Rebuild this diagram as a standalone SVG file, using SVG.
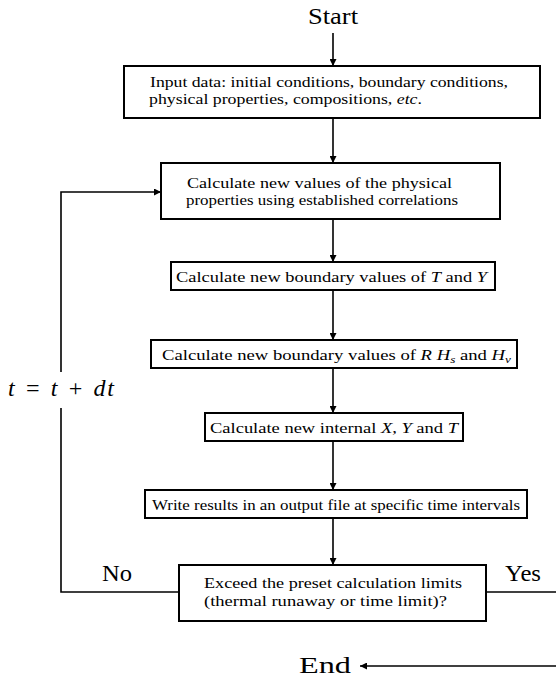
<svg xmlns="http://www.w3.org/2000/svg" width="556" height="683" viewBox="0 0 556 683">
<style>
.box{fill:#fff;stroke:#000;stroke-width:2}
.ln{fill:none;stroke:#000;stroke-width:1.6}
.t{font-family:"Liberation Serif","Times New Roman",serif;font-size:15.5px;fill:#000}
.big{font-family:"Liberation Serif","Times New Roman",serif;font-size:24px;fill:#000}
.i{font-style:italic}
</style>
<defs>
<marker id="ah" viewBox="0 0 10 10" refX="10" refY="5" markerWidth="7" markerHeight="7" markerUnits="userSpaceOnUse" orient="auto">
<path d="M0,0 L10,5 L0,10 z" fill="#000"/>
</marker>
</defs>
<text class="big" x="308" y="24" font-size="25" textLength="50" lengthAdjust="spacingAndGlyphs">Start</text>
<g id="connectors">
<line class="ln" x1="333" y1="33" x2="333" y2="66" marker-end="url(#ah)"/>
<line class="ln" x1="333" y1="118" x2="333" y2="163" marker-end="url(#ah)"/>
<line class="ln" x1="333" y1="219" x2="333" y2="262" marker-end="url(#ah)"/>
<line class="ln" x1="333" y1="290" x2="333" y2="340" marker-end="url(#ah)"/>
<line class="ln" x1="333" y1="368" x2="333" y2="413" marker-end="url(#ah)"/>
<line class="ln" x1="333" y1="441" x2="333" y2="490" marker-end="url(#ah)"/>
<line class="ln" x1="333" y1="518" x2="333" y2="565" marker-end="url(#ah)"/>
<polyline class="ln" points="179,592 61,592 61,408"/>
<polyline class="ln" points="61,372 61,192 161,192" marker-end="url(#ah)"/>
<line class="ln" x1="486" y1="592" x2="556" y2="592"/>
<line class="ln" x1="556" y1="666" x2="360" y2="666" marker-end="url(#ah)"/>
</g>
<text class="big i" x="8" y="396" textLength="106" lengthAdjust="spacing">t = t + dt</text>
<text class="big" x="102" y="581" textLength="30" lengthAdjust="spacingAndGlyphs">No</text>
<text class="big" x="505" y="581" textLength="36" lengthAdjust="spacingAndGlyphs">Yes</text>
<text class="big" x="299" y="673" font-size="25" textLength="52" lengthAdjust="spacingAndGlyphs">End</text>
<g id="n1">
<rect class="box" x="124" y="66" width="416" height="52"/>
<text class="t" x="150" y="87" textLength="358" lengthAdjust="spacingAndGlyphs">Input data: initial conditions, boundary conditions,</text>
<text class="t" x="149" y="104" textLength="273" lengthAdjust="spacingAndGlyphs">physical properties, compositions, <tspan class="i">etc</tspan>.</text>
</g>
<g id="n2">
<rect class="box" x="161" y="163" width="339" height="56"/>
<text class="t" x="187" y="188" textLength="265" lengthAdjust="spacingAndGlyphs">Calculate new values of the physical</text>
<text class="t" x="186" y="205" textLength="272" lengthAdjust="spacingAndGlyphs">properties using established correlations</text>
</g>
<g id="n3">
<rect class="box" x="171" y="262" width="324" height="28"/>
<text class="t" x="176" y="282" textLength="311" lengthAdjust="spacingAndGlyphs">Calculate new boundary values of <tspan class="i">T</tspan> and <tspan class="i">Y</tspan></text>
</g>
<g id="n4">
<rect class="box" x="151" y="340" width="366" height="28"/>
<text class="t" x="162" y="360" textLength="349" lengthAdjust="spacingAndGlyphs">Calculate new boundary values of <tspan class="i">R H</tspan><tspan class="i" font-size="11" dy="3">s</tspan><tspan dy="-3"> and </tspan><tspan class="i">H</tspan><tspan class="i" font-size="11" dy="3">v</tspan></text>
</g>
<g id="n5">
<rect class="box" x="205" y="413" width="258" height="28"/>
<text class="t" x="210" y="433" textLength="248" lengthAdjust="spacingAndGlyphs">Calculate new internal <tspan class="i">X</tspan>, <tspan class="i">Y</tspan> and <tspan class="i">T</tspan></text>
</g>
<g id="n6">
<rect class="box" x="145" y="490" width="382" height="28"/>
<text class="t" x="152" y="510" textLength="368" lengthAdjust="spacingAndGlyphs">Write results in an output file at specific time intervals</text>
</g>
<g id="n7">
<rect class="box" x="179" y="565" width="307" height="56"/>
<text class="t" x="204" y="588" textLength="258" lengthAdjust="spacingAndGlyphs">Exceed the preset calculation limits</text>
<text class="t" x="204" y="606" textLength="243" lengthAdjust="spacingAndGlyphs">(thermal runaway or time limit)?</text>
</g>
</svg>
